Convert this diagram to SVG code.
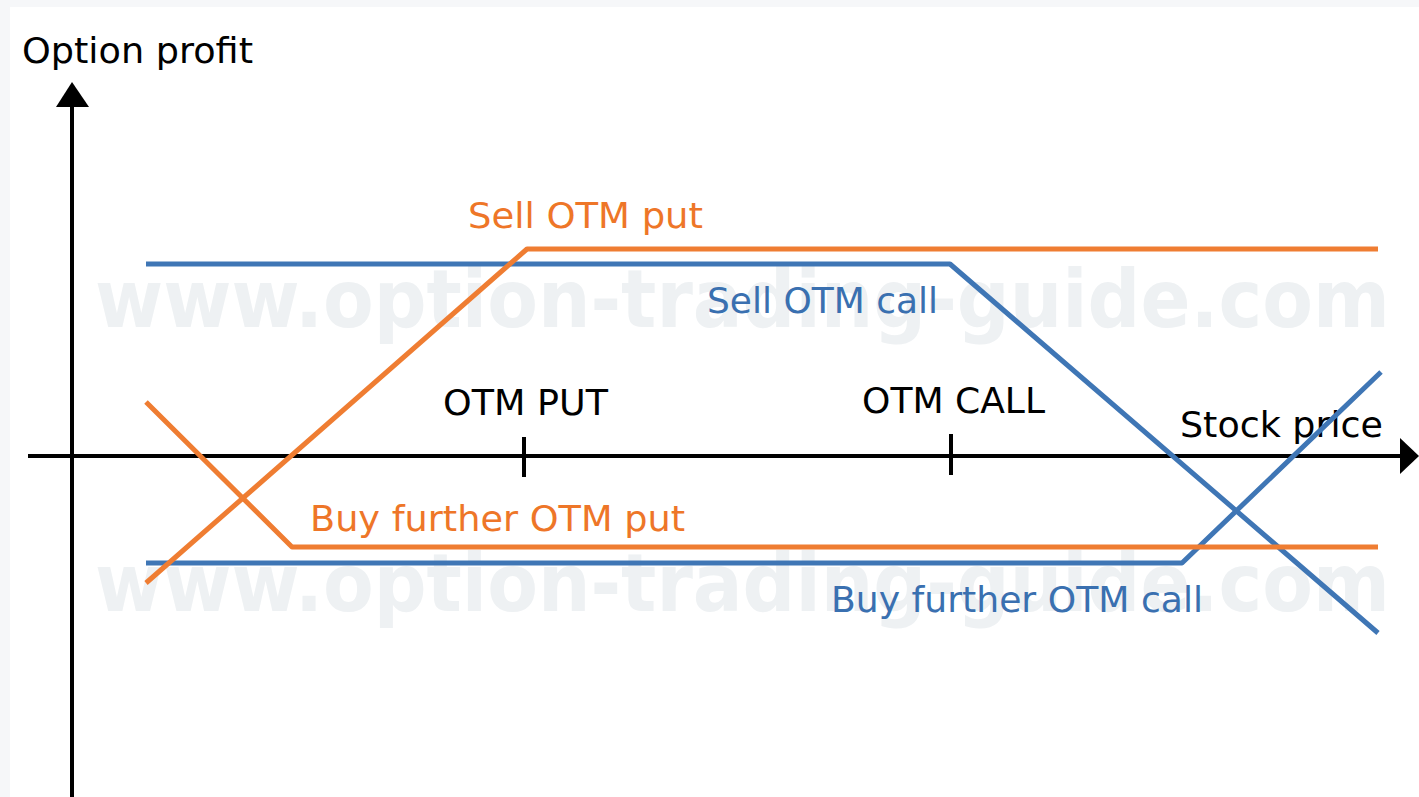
<svg xmlns="http://www.w3.org/2000/svg" width="1419" height="797" viewBox="0 0 1419 797">
<defs>
<style>
.lbl{font-family:"DejaVu Sans","Verdana",sans-serif;font-size:36px}
.blk{fill:#000}
.org{fill:#EE7628}
.blu{fill:#3A70B0}
.wm{font-family:"DejaVu Sans","Verdana",sans-serif;font-weight:bold;font-size:80px;fill:#EEF1F3}
.ax{stroke:#000;stroke-width:4;fill:none}
.po{stroke:#EF7D32;stroke-width:5;fill:none;stroke-linejoin:round}
.pb{stroke:#3F76B5;stroke-width:5;fill:none;stroke-linejoin:round}
</style>
</defs>
<rect width="1419" height="797" fill="#F6F7F9"/>
<rect x="10" y="7" width="1409" height="790" fill="#FFFFFF"/>
<g id="watermark">
<text class="wm" x="95" y="327" textLength="1295" lengthAdjust="spacingAndGlyphs">www.option-trading-guide.com</text>
<text class="wm" x="95" y="611" textLength="1295" lengthAdjust="spacingAndGlyphs">www.option-trading-guide.com</text>
</g>
<g id="axes">
<line class="ax" x1="72" y1="797" x2="72" y2="100"/>
<polygon points="72,82 56,107 89,107" fill="#000"/>
<line class="ax" x1="28" y1="456" x2="1405" y2="456"/>
<polygon points="1419,456 1400,438 1400,474" fill="#000"/>
<line class="ax" x1="524" y1="437" x2="524" y2="477"/>
<line class="ax" x1="951" y1="434" x2="951" y2="475"/>
<text id="ylabel" class="lbl blk" x="22" y="63" textLength="231" lengthAdjust="spacingAndGlyphs">Option profit</text>
<text id="xlabel" class="lbl blk" x="1180" y="437" textLength="203" lengthAdjust="spacingAndGlyphs">Stock price</text>
<text id="otmput" class="lbl blk" x="443" y="415" textLength="165" lengthAdjust="spacingAndGlyphs">OTM PUT</text>
<text id="otmcall" class="lbl blk" x="862" y="413" textLength="183" lengthAdjust="spacingAndGlyphs">OTM CALL</text>
</g>
<g id="connectors">
<polyline class="pb" points="146,264 950,264 1378,633"/>
<polyline class="pb" points="146,563 1182,563 1381,372"/>
<polyline class="po" points="146,583 527,249 1378,249"/>
<polyline class="po" points="146,402 292,547 1378,547"/>
</g>
<g id="sell-otm-put">
<text class="lbl org" x="468" y="228" textLength="235" lengthAdjust="spacingAndGlyphs">Sell OTM put</text>
</g>
<g id="sell-otm-call">
<text class="lbl blu" x="707" y="313" textLength="231" lengthAdjust="spacingAndGlyphs">Sell OTM call</text>
</g>
<g id="buy-further-otm-put">
<text class="lbl org" x="310" y="531" textLength="375" lengthAdjust="spacingAndGlyphs">Buy further OTM put</text>
</g>
<g id="buy-further-otm-call">
<text class="lbl blu" x="831" y="612" textLength="372" lengthAdjust="spacingAndGlyphs">Buy further OTM call</text>
</g>
</svg>
